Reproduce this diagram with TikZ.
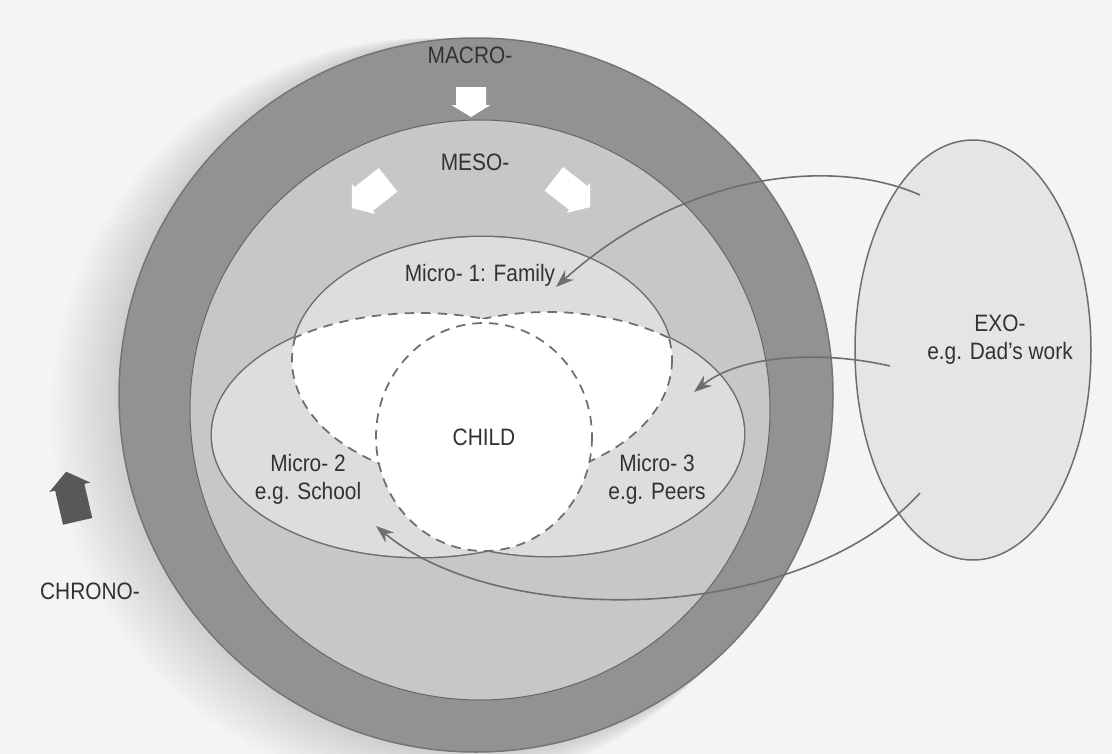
\documentclass[tikz,border=0pt]{standalone}
\usepackage{fontspec}
\setmainfont{Liberation Sans}[FakeStretch=0.88]
\usetikzlibrary{arrows.meta}
\definecolor{paper}{RGB}{244,244,242}
\definecolor{macrogrey}{RGB}{146,146,146}
\definecolor{mesogrey}{RGB}{199,199,199}
\definecolor{microgrey}{RGB}{221,221,221}
\definecolor{exogrey}{RGB}{229,229,229}
\definecolor{linegrey}{RGB}{110,110,110}
\definecolor{inkgrey}{RGB}{50,50,50}
\definecolor{chronogrey}{RGB}{88,88,88}
\tikzset{
  sysname/.style={text=inkgrey,font=\fontsize{13.5}{16}\selectfont,align=center,inner sep=0pt},
  macroring/.style={fill=macrogrey,draw=macrogrey!80!black,line width=0.3mm},
  mesoring/.style={fill=mesogrey,draw=macrogrey!70!black,line width=0.2mm},
  microline/.style={draw=linegrey,line width=0.3mm},
  dashline/.style={draw=linegrey,line width=0.35mm,dash pattern=on 1.9mm off 1.4mm},
  link/.style={draw=linegrey,line width=0.32mm,-{Stealth[length=3.6mm,width=2.6mm]}},
  whitearrow/.style={fill=white},
  chronoarrow/.style={fill=chronogrey}
}
\begin{document}
\begin{tikzpicture}[x=0.2mm,y=-0.2mm]
\useasboundingbox[fill=paper] (0,0) rectangle (1112,754);
%shadow of the page
\foreach \d in {4,8,...,48}
  \fill[black,opacity=0.013] (476-\d,395+0.4*\d) circle (357+0.4*\d);
%MACRO- and MESO-
\draw[macroring] (476,395) circle (357);
\draw[mesoring] (480,410) circle (290);
%MICRO- 1, 2, 3
\draw[linegrey,line width=0.6mm] (482,360) ellipse [x radius=190, y radius=123]
  (420,435) ellipse [x radius=208, y radius=122]
  (548,434) ellipse [x radius=196, y radius=122];
\fill[microgrey] (482,360) ellipse [x radius=190, y radius=123]
  (420,435) ellipse [x radius=208, y radius=122]
  (548,434) ellipse [x radius=196, y radius=122];
%overlap
\begin{scope}
\clip (482,360) ellipse [x radius=190, y radius=123];
\fill[white] (420,435) ellipse [x radius=208, y radius=122]
  (548,434) ellipse [x radius=196, y radius=122];
\end{scope}
\begin{scope}[even odd rule]
\clip (482,360) ellipse [x radius=190, y radius=123];
\clip (0,0) rectangle (1112,754) (548,434) ellipse [x radius=196, y radius=122];
\draw[dashline] (420,435) ellipse [x radius=208, y radius=122];
\end{scope}
\begin{scope}[even odd rule]
\clip (482,360) ellipse [x radius=190, y radius=123];
\clip (0,0) rectangle (1112,754) (420,435) ellipse [x radius=208, y radius=122];
\draw[dashline] (548,434) ellipse [x radius=196, y radius=122];
\end{scope}
\begin{scope}
\clip (420,435) ellipse [x radius=208, y radius=122]
  (548,434) ellipse [x radius=196, y radius=122];
\draw[dashline] (482,360) ellipse [x radius=190, y radius=123];
\end{scope}
%CHILD
\fill[white] (484,437) ellipse [x radius=108, y radius=114];
\draw[dashline] (484,437) ellipse [x radius=108, y radius=114];
%EXO-
\draw[fill=exogrey,microline] (973,350) ellipse [x radius=118, y radius=210];

%block arrows
\begin{scope}[shift={(471,102)},rotate=-90]
\fill[whitearrow] (-15,-15) -- (3,-15) -- (3,-19.5) -- (15,0) -- (3,19.5) -- (3,15) -- (-15,15) -- cycle;
\end{scope}
\begin{scope}[shift={(370,194)},rotate=218]
\fill[whitearrow] (-23,-15) -- (8,-15) -- (8,-19) -- (23,0) -- (8,19) -- (8,15) -- (-23,15) -- cycle;
\end{scope}
\begin{scope}[shift={(572,193)},rotate=-38]
\fill[whitearrow] (-23,-15) -- (8,-15) -- (8,-19) -- (23,0) -- (8,19) -- (8,15) -- (-23,15) -- cycle;
\end{scope}
\begin{scope}[shift={(72,497)},rotate=103]
\fill[chronoarrow] (-25,-15) -- (10,-15) -- (10,-21) -- (26,0) -- (10,21) -- (10,15) -- (-25,15) -- cycle;
\end{scope}

%names
\node[sysname] (macro) at (470,55) {MACRO-};
\node[sysname] (meso) at (475,162) {MESO-};
\node[sysname] (family) at (480,275) {Micro- 1: Family};
\node[sysname] (child) at (484,437) {CHILD};
\node[sysname] (school) at (308,479) {Micro- 2\\e.g. School};
\node[sysname] (peers) at (657,479) {Micro- 3\\e.g. Peers};
\node[sysname] (exo) at (1000,340) {EXO-\\e.g. Dad's work};
\node[sysname] (chrono) at (90,591) {CHRONO-};

%links
\coordinate (exo-a) at (920,195);
\coordinate (exo-b) at (890,366);
\coordinate (exo-c) at (920,493);
\coordinate (family-in) at (556,287);
\coordinate (peers-in) at (694,392);
\coordinate (school-in) at (376,526);
\draw[link] (exo-a) .. controls (830,155) and (680,175) .. (family-in);
\draw[link] (exo-b) .. controls (820,350) and (740,355) .. (peers-in);
\draw[link] (exo-c) .. controls (800,625) and (500,630) .. (school-in);
\end{tikzpicture}
\end{document}
